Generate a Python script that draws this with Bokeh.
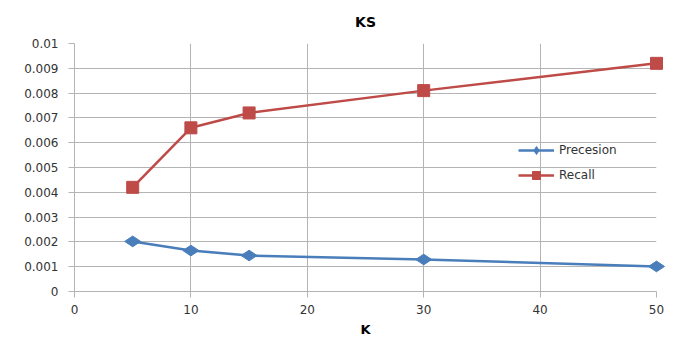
from bokeh.plotting import figure
from bokeh.models import Range1d, FixedTicker, Legend, LegendItem
from bokeh.embed import file_html
from bokeh.resources import INLINE
import math

# Data: KS evaluation at different K values
k_values = [5, 10, 15, 30, 50]
precision = [0.00202, 0.00165, 0.00145, 0.00129, 0.00101]
recall = [0.0042, 0.0066, 0.0072, 0.0081, 0.0092]

x_ticks = [0, 10, 20, 30, 40, 50]
y_ticks = [0, 0.001, 0.002, 0.003, 0.004, 0.005, 0.006, 0.007, 0.008, 0.009, 0.01]
y_tick_labels = ["0", "0.001", "0.002", "0.003", "0.004", "0.005",
                 "0.006", "0.007", "0.008", "0.009", "0.01"]

BLUE = "#4A7EBB"
RED = "#BE4B48"
GRID = "#b4b4b4"
FONT = "DejaVu Sans"
TEXT = "#333333"

p = figure(width=681, height=339, output_backend="svg", toolbar_location=None,
           x_range=Range1d(0, 50), y_range=Range1d(0, 0.01),
           min_border_left=74, min_border_right=25,
           min_border_top=43, min_border_bottom=48)

p.outline_line_color = None
p.background_fill_color = "white"
p.border_fill_color = "white"

p.title.text = "KS"
p.title.align = "center"
p.title.vertical_align = "top"
p.title.text_font = FONT
p.title.text_font_size = "14px"
p.title.text_font_style = "bold"
p.title.text_color = "#000000"
p.title.standoff = 24

# Axes
p.xaxis.ticker = FixedTicker(ticks=x_ticks)
p.yaxis.ticker = FixedTicker(ticks=y_ticks)
p.yaxis.major_label_overrides = {t: s for t, s in zip(y_ticks, y_tick_labels)}
p.xaxis.axis_label = "K"
p.xaxis.axis_label_text_font = FONT
p.xaxis.axis_label_text_font_size = "13px"
p.xaxis.axis_label_text_font_style = "bold"
p.xaxis.axis_label_text_color = "#000000"
p.xaxis.axis_label_standoff = 5

for ax in (p.xaxis[0], p.yaxis[0]):
    ax.axis_line_color = GRID
    ax.major_tick_line_color = GRID
    ax.major_tick_out = 6
    ax.major_tick_in = 0
    ax.minor_tick_line_color = None
    ax.major_label_text_font = FONT
    ax.major_label_text_font_size = "12px"
    ax.major_label_text_color = TEXT
p.yaxis.major_label_standoff = 10
p.xaxis.major_label_standoff = 7

p.xgrid.ticker = FixedTicker(ticks=x_ticks)
p.ygrid.ticker = FixedTicker(ticks=y_ticks)
p.grid.grid_line_color = GRID
p.grid.grid_line_width = 1

# Series
rl = p.line(k_values, recall, line_color=RED, line_width=2.5)
rm = p.scatter(k_values, recall, marker="square", size=12,
               fill_color=RED, line_color=RED, level="overlay")
pl = p.line(k_values, precision, line_color=BLUE, line_width=2.5)
pm = p.scatter(k_values, precision, marker="diamond", size=16, angle=math.pi / 2,
               fill_color=BLUE, line_color=BLUE, level="overlay")

legend = Legend(items=[LegendItem(label="Precesion", renderers=[pl, pm]),
                       LegendItem(label="Recall", renderers=[rl, rm])],
                location=(444, 106), orientation="vertical",
                glyph_width=36, glyph_height=20, label_height=20,
                label_standoff=5, spacing=5, padding=0, margin=0,
                border_line_color=None, background_fill_alpha=0,
                label_text_font=FONT, label_text_font_size="12px",
                label_text_color=TEXT)
p.add_layout(legend)

open("out.html", "w").write(file_html(p, INLINE))
